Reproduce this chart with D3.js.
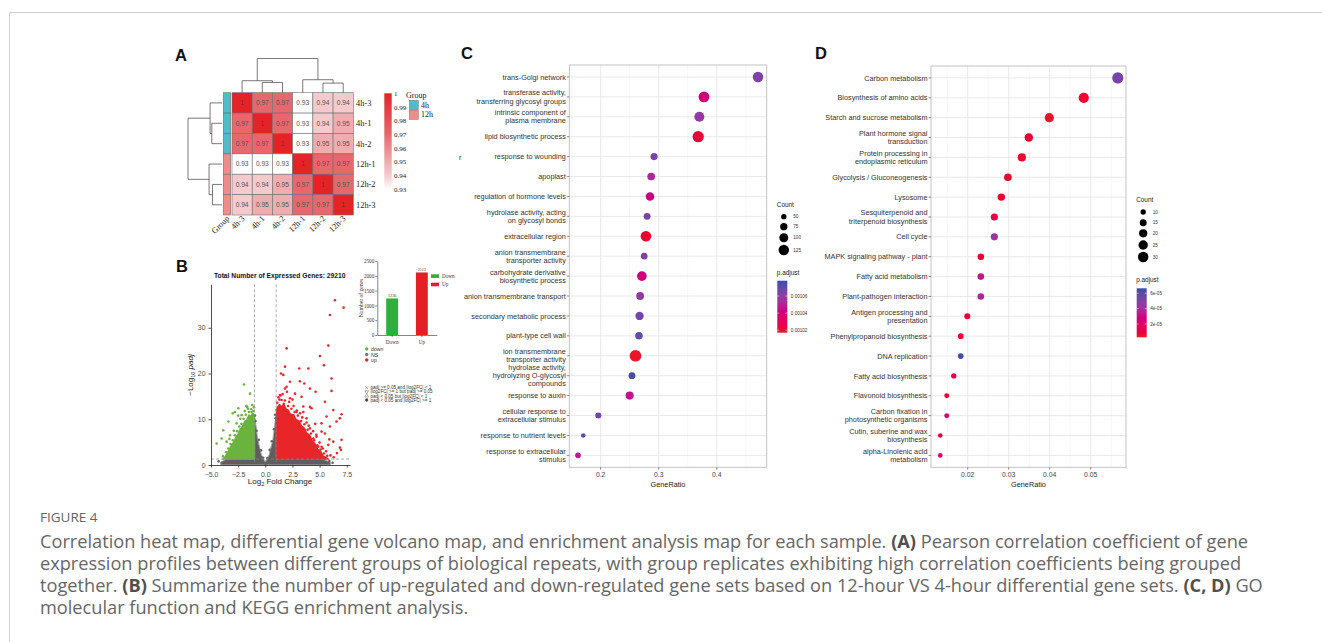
<!DOCTYPE html>
<html>
<head>
<meta charset="utf-8">
<script src="https://cdn.jsdelivr.net/npm/d3@7"></script>
<style>
  body { margin: 0; background: #fff; }
  svg { display: block; font-family: "Liberation Sans", Arial, sans-serif; }
</style>
</head>
<body>
<div id="fig"></div>
<script>
// ---------- data ----------
// A: correlation heat map
const heatSamples = ["4h-3", "4h-1", "4h-2", "12h-1", "12h-2", "12h-3"];
const heatGroups = ["4h", "4h", "4h", "12h", "12h", "12h"];
const heatValues = [
  [1, 0.97, 0.97, 0.93, 0.94, 0.94],
  [0.97, 1, 0.97, 0.93, 0.94, 0.95],
  [0.97, 0.97, 1, 0.93, 0.95, 0.95],
  [0.93, 0.93, 0.93, 1, 0.97, 0.97],
  [0.94, 0.94, 0.95, 0.97, 1, 0.97],
  [0.94, 0.95, 0.95, 0.97, 0.97, 1]
];
const heatLegendTicks = [1, 0.99, 0.98, 0.97, 0.96, 0.95, 0.94, 0.93];
// merges: [child a, child b, height, name]
const dendroMerges = [
  ["4h-1", "4h-2", 0.030, "m0"],
  ["4h-3", "m0", 0.035, "m1"],
  ["12h-2", "12h-3", 0.028, "m2"],
  ["12h-1", "m2", 0.038, "m3"],
  ["m1", "m3", 0.100, "root"]
];

// B: volcano + bar inset
const volcanoXTicks = [-5, -2.5, 0, 2.5, 5, 7.5];
const volcanoYTicks = [0, 10, 20, 30];
const upPoints = [
  [6.41, 36.0], [7.21, 34.4], [5.95, 32.8], [5.80, 26.1], [1.96, 25.5], [5.03, 23.8],
  [5.40, 21.8], [1.81, 21.5], [3.13, 21.1], [3.96, 21.1], [1.44, 20.0], [1.66, 19.7],
  [6.10, 18.9], [3.19, 18.3], [2.27, 18.2], [3.59, 17.8], [1.96, 17.1], [1.81, 16.7],
  [4.11, 16.7], [4.63, 16.0], [6.10, 16.2], [2.73, 15.6], [1.35, 15.3], [3.34, 14.9],
  [2.27, 14.6], [5.49, 13.8], [4.11, 12.7], [4.26, 12.4], [6.26, 12.0], [7.02, 11.1],
  [6.87, 10.2], [5.64, 10.6], [6.56, 9.5], [5.18, 9.1], [5.95, 8.4], [7.02, 5.5],
  [6.87, 3.8], [6.96, 3.3], [6.26, 5.1], [5.49, 6.9], [5.18, 7.3], [4.72, 6.2],
  [5.80, 4.4], [5.18, 4.0], [4.72, 3.6], [4.42, 5.8], [4.11, 8.0], [3.50, 11.6],
  [2.88, 11.6], [3.80, 10.2], [4.88, 4.0],
  [1.1, 13.6], [1.3, 14.3], [1.5, 14.2], [1.8, 14.1], [2.1, 12.9], [2.4, 12.3],
  [2.7, 11.6], [3.0, 10.8], [3.3, 9.6], [3.6, 8.9], [3.9, 7.7], [4.2, 6.9],
  [4.5, 5.4], [4.8, 4.3], [5.1, 3.4], [5.4, 2.5], [5.7, 2.0], [1.2, 14.8],
  [1.4, 15.2], [2.2, 13.8], [2.6, 12.9], [3.2, 11.3], [3.8, 9.3], [4.4, 7.4],
  [5.0, 4.9], [5.3, 3.6], [6.0, 2.1], [6.3, 1.7], [2.0, 16.0], [1.6, 15.5],
  [2.5, 14.3], [3.5, 12.8], [4.6, 9.0], [5.6, 3.0], [6.6, 2.6], [5.9, 5.6],
  [1.05, 12.0], [1.7, 13.4], [2.9, 11.9], [3.4, 10.4], [4.0, 8.6], [4.7, 6.6]
];
const downPoints = [
  [-1.96, 17.6], [-1.41, 15.6], [-1.66, 12.7], [-2.48, 12.4], [-2.79, 11.6], [-3.0, 11.3],
  [-1.26, 11.6], [-2.18, 10.9], [-3.40, 9.5], [-2.64, 9.1], [-3.87, 7.6], [-4.02, 5.8],
  [-4.48, 4.7], [-3.25, 6.5], [-3.56, 5.1], [-2.79, 3.6], [-3.25, 2.9],
  [-1.1, 11.8], [-1.3, 12.2], [-1.5, 11.6], [-1.8, 11.0], [-2.0, 10.1], [-2.2, 9.0],
  [-2.4, 8.4], [-2.6, 7.4], [-2.8, 6.5], [-3.0, 5.4], [-3.2, 4.6], [-3.4, 3.6],
  [-3.6, 2.8], [-3.9, 1.9], [-1.2, 13.1], [-1.6, 12.3], [-2.3, 10.1], [-2.9, 7.5],
  [-3.3, 5.7], [-1.9, 11.8], [-2.5, 10.8], [-1.05, 12.6], [-1.75, 12.9]
];
const nsPoints = [
  [-0.9, 9.6], [-0.8, 7.5], [-0.6, 5.5], [-0.4, 3.2], [0.4, 3.3], [0.6, 5.2],
  [0.8, 7.8], [0.95, 10.2], [-0.95, 10.8], [0.9, 11.0], [-4.3, 0.8], [-4.0, 0.5],
  [5.9, 0.9], [6.2, 0.5], [0.0, 0.3], [-0.2, 1.6], [0.2, 1.5]
];
const upCloud = [[1.0, 1.3], [1.0, 10.5], [1.1, 12.5], [1.3, 13.2], [1.5, 12.6], [1.7, 13.3],
  [1.9, 12.2], [2.1, 12.0], [2.3, 11.1], [2.6, 11.0], [2.8, 10.0], [3.1, 9.6], [3.3, 8.6],
  [3.6, 8.0], [3.8, 7.0], [4.1, 6.4], [4.3, 5.3], [4.6, 4.6], [4.8, 3.5], [5.1, 2.9],
  [5.3, 2.0], [5.6, 1.6], [5.8, 1.3]];
const downCloud = [[-1.0, 1.3], [-1.0, 10.5], [-1.15, 11.3], [-1.35, 10.6], [-1.5, 10.9],
  [-1.7, 9.8], [-1.9, 9.5], [-2.1, 8.4], [-2.3, 7.9], [-2.5, 6.7], [-2.7, 6.1], [-2.9, 5.0],
  [-3.1, 4.4], [-3.3, 3.4], [-3.5, 2.6], [-3.7, 1.8], [-3.9, 1.3]];
const nsCloud = [[-4.1, 0], [-4.1, 0.6], [-3.6, 1.3], [-1.0, 1.3], [-1.0, 10.5], [-0.93, 10.0],
  [-0.7, 5.6], [-0.35, 2.2], [0, 0.7], [0.35, 2.2], [0.7, 5.6], [0.93, 10.0], [1.0, 10.5],
  [1.0, 1.3], [5.3, 1.3], [6.0, 0.6], [6.0, 0]];
const barCategories = ["Down", "Up"];
const barValues = [1236, 2113];
const barTicks = [0, 500, 1000, 1500, 2000, 2500];
const volcanoLegend = ["down", "NS", "up"];
const shapeLegend = [
  "padj >= 0.05 and |log2FC| < 1",
  "|log2FC| >= 1 but padj >= 0.05",
  "padj < 0.05 but |log2FC| < 1",
  "padj < 0.05 and |log2FC| >= 1"
];

// C: GO enrichment
const goTerms = [
  "trans-Golgi network",
  "transferase activity,\ntransferring glycosyl groups",
  "intrinsic component of\nplasma membrane",
  "lipid biosynthetic process",
  "response to wounding",
  "apoplast",
  "regulation of hormone levels",
  "hydrolase activity, acting\non glycosyl bonds",
  "extracellular region",
  "anion transmembrane\ntransporter activity",
  "carbohydrate derivative\nbiosynthetic process",
  "anion transmembrane transport",
  "secondary metabolic process",
  "plant-type cell wall",
  "ion transmembrane\ntransporter activity",
  "hydrolase activity,\nhydrolyzing O-glycosyl\ncompounds",
  "response to auxin",
  "cellular response to\nextracellular stimulus",
  "response to nutrient levels",
  "response to extracellular\nstimulus"
];
const goRatio = [0.471, 0.378, 0.370, 0.368, 0.292, 0.287, 0.285, 0.280, 0.278, 0.275,
  0.271, 0.268, 0.267, 0.266, 0.260, 0.254, 0.250, 0.196, 0.170, 0.161];
const goCount = [125, 132, 118, 140, 72, 80, 92, 70, 128, 66,
  112, 82, 90, 78, 148, 68, 86, 58, 42, 54];
const goPadj = [0.001063, 0.001040, 0.001058, 0.001021, 0.001064, 0.001052, 0.001042, 0.001064,
  0.001020, 0.001063, 0.001040, 0.001058, 0.001067, 0.001069, 0.001018, 0.001076,
  0.001046, 0.001066, 0.001070, 0.001048];
const goXTicks = [0.2, 0.3, 0.4];
const goSizeLegend = [50, 75, 100, 125];
const goColorTicks = [0.00106, 0.00104, 0.00102];

// D: KEGG enrichment
const keggTerms = [
  "Carbon metabolism",
  "Biosynthesis of amino acids",
  "Starch and sucrose metabolism",
  "Plant hormone signal\ntransduction",
  "Protein processing in\nendoplasmic reticulum",
  "Glycolysis / Gluconeogenesis",
  "Lysosome",
  "Sesquiterpenoid and\ntriterpenoid biosynthesis",
  "Cell cycle",
  "MAPK signaling pathway - plant",
  "Fatty acid metabolism",
  "Plant-pathogen interaction",
  "Antigen processing and\npresentation",
  "Phenylpropanoid biosynthesis",
  "DNA replication",
  "Fatty acid biosynthesis",
  "Flavonoid biosynthesis",
  "Carbon fixation in\nphotosynthetic organisms",
  "Cutin, suberine and wax\nbiosynthesis",
  "alpha-Linolenic acid\nmetabolism"
];
const keggRatio = [0.0566, 0.0483, 0.0399, 0.0349, 0.0332, 0.0298, 0.0282, 0.0265, 0.0265, 0.0232,
  0.0232, 0.0232, 0.0199, 0.0183, 0.0183, 0.0166, 0.0149, 0.0149, 0.0133, 0.0133];
const keggCount = [34, 29, 24, 21, 20, 18, 17, 16, 16, 14, 14, 14, 12, 11, 11, 10, 9, 9, 8, 8];
const keggPadj = [5.3e-5, 5e-6, 4e-6, 6e-6, 5e-6, 5e-6, 6e-6, 1.1e-5, 4.3e-5, 6e-6,
  3.4e-5, 3.7e-5, 6e-6, 7e-6, 6.5e-5, 1.5e-5, 8e-6, 2.4e-5, 9e-6, 1.7e-5];
const keggXTicks = [0.02, 0.03, 0.04, 0.05];
const keggSizeLegend = [10, 15, 20, 25, 30];
const keggColorTicks = [6e-5, 4e-5, 2e-5];

const captionLines = [
  [["Correlation heat map, differential gene volcano map, and enrichment analysis map for each sample. ", false], ["(A)", true], [" Pearson correlation coefficient of gene", false]],
  [["expression profiles between different groups of biological repeats, with group replicates exhibiting high correlation coefficients being grouped", false]],
  [["together. ", false], ["(B)", true], [" Summarize the number of up-regulated and down-regulated gene sets based on 12-hour VS 4-hour differential gene sets. ", false], ["(C, D)", true], [" GO", false]],
  [["molecular function and KEGG enrichment analysis.", false]]
];

// ---------- svg ----------
const svg = d3.select("#fig").append("svg")
  .attr("width", 1322)
  .attr("height", 642);

svg.append("rect").attr("width", 1322).attr("height", 642).attr("fill", "#fff");
// page frame
svg.append("path").attr("d", "M9.5,642V12.5H1322").attr("fill", "none").attr("stroke", "#cfcfcf");

// panel letters
[["A", 175, 61], ["B", 176, 272], ["C", 461, 59], ["D", 815, 59]].forEach(function (p) {
  svg.append("text").attr("x", p[1]).attr("y", p[2]).text(p[0])
    .attr("font-size", 16.5).attr("font-weight", "bold").attr("fill", "#111");
});

// ================= A =================
const gA = svg.append("g");
const hx = d3.scaleBand().domain(heatSamples).range([232, 353.3]);
const hy = d3.scaleBand().domain(heatSamples).range([92.7, 215]);
const heatColor = d3.scaleLinear()
  .domain([0.93, 0.94, 0.95, 0.97, 1])
  .range(["#ffffff", "#f4cacd", "#efadb0", "#e6686c", "#e42327"]);
const groupColor = d3.scaleOrdinal().domain(["4h", "12h"]).range(["#4fbcc6", "#ef8b89"]);

heatValues.forEach(function (row, i) {
  row.forEach(function (v, j) {
    gA.append("rect")
      .attr("x", hx(heatSamples[j])).attr("y", hy(heatSamples[i]))
      .attr("width", hx.bandwidth()).attr("height", hy.bandwidth())
      .attr("fill", heatColor(v)).attr("stroke", "#6f6f6f").attr("stroke-width", 0.6);
    gA.append("text")
      .attr("x", hx(heatSamples[j]) + hx.bandwidth() / 2)
      .attr("y", hy(heatSamples[i]) + hy.bandwidth() / 2 + 2.4)
      .attr("text-anchor", "middle").attr("font-size", 6.6)
      .attr("fill", v === 1 ? "#7a2a2a" : "#555")
      .text(v === 1 ? "1" : d3.format(".2f")(v));
  });
});

// group annotation column
heatSamples.forEach(function (s, i) {
  gA.append("rect").attr("x", 223.3).attr("y", hy(s)).attr("width", 7.4).attr("height", hy.bandwidth())
    .attr("fill", groupColor(heatGroups[i])).attr("stroke", "#6f6f6f").attr("stroke-width", 0.6);
});

// row labels
heatSamples.forEach(function (s) {
  gA.append("text").attr("x", 356).attr("y", hy(s) + hy.bandwidth() / 2 + 3)
    .attr("font-family", "Liberation Serif, serif").attr("font-size", 8.4).attr("fill", "#222").text(s);
});
// column labels (45 degrees)
[["Group", 227]].concat(heatSamples.map(function (s) { return [s, hx(s) + hx.bandwidth() / 2]; }))
  .forEach(function (c) {
    gA.append("text").attr("transform", "translate(" + (c[1] + 3) + ",219) rotate(-45)")
      .attr("text-anchor", "end").attr("font-family", "Liberation Serif, serif")
      .attr("font-size", 8.4).attr("fill", "#222").text(c[0]);
  });

// dendrograms
const heightTop = d3.scaleLinear().domain([0, 0.1]).range([92.7, 58.5]);
const heightLeft = d3.scaleLinear().domain([0, 0.1]).range([222, 188]);
const nodePos = {}, nodeH = {};
heatSamples.forEach(function (s) { nodePos[s] = heatSamples.indexOf(s); nodeH[s] = 0; });
dendroMerges.forEach(function (m) {
  nodePos[m[3]] = (nodePos[m[0]] + nodePos[m[1]]) / 2;
  nodeH[m[3]] = m[2];
});
const colCenter = function (p) { return 232 + hx.step() * (p + 0.5); };
const rowCenter = function (p) { return 92.7 + hy.step() * (p + 0.5); };
dendroMerges.forEach(function (m) {
  const ha = nodeH[m[0]], hb = nodeH[m[1]], h = m[2];
  const pa = nodePos[m[0]], pb = nodePos[m[1]];
  gA.append("path")
    .attr("d", "M" + colCenter(pa) + "," + heightTop(ha) + "V" + heightTop(h) + "H" + colCenter(pb) + "V" + heightTop(hb))
    .attr("fill", "none").attr("stroke", "#555").attr("stroke-width", 0.8);
  gA.append("path")
    .attr("d", "M" + heightLeft(ha) + "," + rowCenter(pa) + "H" + heightLeft(h) + "V" + rowCenter(pb) + "H" + heightLeft(hb))
    .attr("fill", "none").attr("stroke", "#555").attr("stroke-width", 0.8);
});

// colour legend
const defs = svg.append("defs");
const heatLegY = d3.scaleLinear().domain([1, 0.93]).range([93.3, 189.2]);
const hg = defs.append("linearGradient").attr("id", "heatGrad").attr("x1", 0).attr("y1", 1).attr("x2", 0).attr("y2", 0);
d3.range(0, 1.01, 0.05).forEach(function (t) {
  hg.append("stop").attr("offset", t).attr("stop-color", heatColor(Math.max(0.93, 0.927 + t * 0.073)));
});
gA.append("rect").attr("x", 384.3).attr("y", 93.3).attr("width", 7.4).attr("height", 100).attr("fill", "url(#heatGrad)");
heatLegendTicks.forEach(function (t) {
  gA.append("text").attr("x", 394).attr("y", heatLegY(t) + 2.5)
    .attr("font-family", "Liberation Serif, serif").attr("font-size", 7).attr("fill", "#222").text(t === 1 ? "1" : t.toFixed(2));
});
gA.append("text").attr("x", 406).attr("y", 98).attr("font-family", "Liberation Serif, serif")
  .attr("font-size", 8).attr("fill", "#222").text("Group");
groupColor.domain().forEach(function (g, i) {
  gA.append("rect").attr("x", 409.3).attr("y", 100.3 + i * 9.8).attr("width", 9).attr("height", 9.3)
    .attr("fill", groupColor(g)).attr("stroke", "#777").attr("stroke-width", 0.5);
  gA.append("text").attr("x", 421).attr("y", 107.6 + i * 9.8).attr("font-family", "Liberation Serif, serif")
    .attr("font-size", 8).attr("fill", "#222").text(g);
});

// ================= B =================
const gB = svg.append("g");
const vx = d3.scaleLinear().domain([-5, 7.8]).range([211, 350]);
const vy = d3.scaleLinear().domain([0, 39.5]).range([465, 284.3]);
gB.append("text").attr("x", 279.7).attr("y", 278).attr("text-anchor", "middle")
  .attr("font-size", 6.7).attr("font-weight", "bold").attr("fill", "#111")
  .text("Total Number of Expressed Genes: 29210");

const cloudLine = d3.line().x(function (d) { return vx(d[0]); }).y(function (d) { return vy(d[1]); }).curve(d3.curveLinearClosed);
gB.append("path").attr("d", cloudLine(nsCloud)).attr("fill", "#5e5e5e").attr("stroke", "#a8a8a8").attr("stroke-width", 1);
gB.append("path").attr("d", cloudLine(downCloud)).attr("fill", "#6ab43e").attr("stroke", "#6ab43e").attr("stroke-width", 1.6).attr("stroke-linejoin", "round");
gB.append("path").attr("d", cloudLine(upCloud)).attr("fill", "#e8262a").attr("stroke", "#e8262a").attr("stroke-width", 1.6).attr("stroke-linejoin", "round");
[[nsPoints, "#666"], [downPoints, "#6ab43e"], [upPoints, "#e8262a"]].forEach(function (set) {
  gB.selectAll(null).data(set[0]).enter().append("circle")
    .attr("cx", function (d) { return vx(d[0]); }).attr("cy", function (d) { return vy(d[1]); })
    .attr("r", 1.3).attr("fill", set[1]);
});
// thresholds
[-1, 1].forEach(function (v) {
  gB.append("line").attr("x1", vx(v)).attr("x2", vx(v)).attr("y1", 284.3).attr("y2", 465)
    .attr("stroke", "#8a8a8a").attr("stroke-width", 0.7).attr("stroke-dasharray", "3,2");
});
gB.append("line").attr("x1", 211).attr("x2", 350).attr("y1", vy(-Math.log10(0.05))).attr("y2", vy(-Math.log10(0.05)))
  .attr("stroke", "#8a8a8a").attr("stroke-width", 0.7).attr("stroke-dasharray", "3,2");

const vAxisX = gB.append("g").attr("transform", "translate(0,465)")
  .call(d3.axisBottom(vx).tickValues(volcanoXTicks).tickFormat(d3.format(".1f")).tickSize(2.5).tickSizeOuter(0));
const vAxisY = gB.append("g").attr("transform", "translate(211,0)")
  .call(d3.axisLeft(vy).tickValues(volcanoYTicks).tickSize(2.5).tickSizeOuter(0));
[vAxisX, vAxisY].forEach(function (a) {
  a.selectAll("path,line").attr("stroke", "#222").attr("stroke-width", 0.8);
  a.selectAll("text").attr("font-size", 6.9).attr("fill", "#4d4d4d").attr("font-family", "Liberation Sans, Arial, sans-serif");
});
vAxisX.selectAll("text").attr("dy", "0.9em");
const xt = gB.append("text").attr("x", 280).attr("y", 484).attr("text-anchor", "middle").attr("font-size", 8).attr("fill", "#222");
xt.append("tspan").text("Log");
xt.append("tspan").attr("font-size", 5.5).attr("dy", 2).text("2");
xt.append("tspan").attr("dy", -2).text(" Fold Change");
const yt = gB.append("text").attr("transform", "translate(193,375) rotate(-90)").attr("text-anchor", "middle").attr("font-size", 8).attr("fill", "#222");
yt.append("tspan").text("\u2212Log");
yt.append("tspan").attr("font-size", 5.5).attr("dy", 2).text("10");
yt.append("tspan").attr("dy", -2).text(" ");
yt.append("tspan").attr("font-style", "italic").text("padj");

// inset bar chart
const bx = d3.scaleBand().domain(barCategories).range([377.3, 436.7]).paddingInner(0.6).paddingOuter(0.3);
const by = d3.scaleLinear().domain([0, 2500]).range([335, 261]);
const barColor = d3.scaleOrdinal().domain(barCategories).range(["#2fae3c", "#e41f26"]);
gB.selectAll(null).data(barCategories).enter().append("rect")
  .attr("x", function (d) { return bx(d); }).attr("width", bx.bandwidth())
  .attr("y", function (d, i) { return by(barValues[i]); })
  .attr("height", function (d, i) { return 335 - by(barValues[i]); })
  .attr("fill", function (d) { return barColor(d); });
gB.selectAll(null).data(barCategories).enter().append("text")
  .attr("x", function (d) { return bx(d) + bx.bandwidth() / 2; })
  .attr("y", function (d, i) { return by(barValues[i]) - 1; })
  .attr("text-anchor", "middle").attr("font-family", "Liberation Serif, serif").attr("font-size", 4.2).attr("fill", "#333")
  .text(function (d, i) { return barValues[i]; });
const bAxisX = gB.append("g").attr("transform", "translate(0,335)")
  .call(d3.axisBottom(bx).tickSize(2).tickSizeOuter(0));
const bAxisY = gB.append("g").attr("transform", "translate(377.3,0)")
  .call(d3.axisLeft(by).tickValues(barTicks).tickFormat(d3.format("d")).tickSize(2).tickSizeOuter(0));
[bAxisX, bAxisY].forEach(function (a) {
  a.selectAll("path,line").attr("stroke", "#333").attr("stroke-width", 0.6);
  a.selectAll("text").attr("font-size", 5.2).attr("fill", "#333").attr("font-family", "Liberation Serif, serif");
});
bAxisY.selectAll("text").attr("x", -3);
gB.append("text").attr("transform", "translate(363,298) rotate(-90)").attr("text-anchor", "middle")
  .attr("font-family", "Liberation Serif, serif").attr("font-size", 5.6).attr("fill", "#333").text("Number of genes");
barCategories.forEach(function (c, i) {
  gB.append("rect").attr("x", 431).attr("y", 274.3 + i * 8.4).attr("width", 8).attr("height", 3.6).attr("fill", barColor(c));
  gB.append("text").attr("x", 442).attr("y", 277.8 + i * 8.4).attr("font-family", "Liberation Serif, serif")
    .attr("font-size", 5.2).attr("fill", "#333").text(c);
});
// point legend
const ptColor = d3.scaleOrdinal().domain(volcanoLegend).range(["#6ab43e", "#777", "#e8262a"]);
volcanoLegend.forEach(function (l, i) {
  gB.append("circle").attr("cx", 366.7).attr("cy", 349 + i * 5.5).attr("r", 1.7).attr("fill", ptColor(l));
  gB.append("text").attr("x", 371).attr("y", 351 + i * 5.5).attr("font-size", 5.2).attr("fill", "#333").text(l);
});
// shape legend
const shapeSyms = [d3.symbolX, d3.symbolTriangle, d3.symbolTriangle, d3.symbolCircle];
shapeLegend.forEach(function (l, i) {
  gB.append("path").attr("d", d3.symbol(shapeSyms[i], 6)())
    .attr("transform", "translate(366.7," + (387.7 + i * 4.1) + ")" + (i === 1 ? " rotate(180)" : ""))
    .attr("fill", i === 3 ? "#333" : "none").attr("stroke", "#666").attr("stroke-width", 0.5);
  gB.append("text").attr("x", 370.5).attr("y", 389.3 + i * 4.1).attr("font-size", 4.6).attr("fill", "#333").text(l);
});

// ================= C & D =================
function dotPlot(cfg) {
  const g = svg.append("g");
  const x = d3.scaleLinear().domain(cfg.xDomain).range([cfg.left, cfg.right]);
  const y = d3.scalePoint().domain(cfg.terms).range([cfg.top, cfg.bottom]).padding(0.6);
  const r = d3.scaleSqrt().domain(cfg.sizeDomain).range(cfg.sizeRange);
  const col = d3.scaleLinear().domain(cfg.colorDomain).range(["#ec1c24", "#3a4fa2"]).interpolate(d3.interpolateHcl);

  // grid
  cfg.minor.forEach(function (t) {
    g.append("line").attr("x1", x(t)).attr("x2", x(t)).attr("y1", cfg.top).attr("y2", cfg.bottom)
      .attr("stroke", "#f2f2f2").attr("stroke-width", 0.6);
  });
  cfg.xTicks.forEach(function (t) {
    g.append("line").attr("x1", x(t)).attr("x2", x(t)).attr("y1", cfg.top).attr("y2", cfg.bottom)
      .attr("stroke", "#e6e6e6").attr("stroke-width", 0.9);
  });
  cfg.terms.forEach(function (t) {
    g.append("line").attr("x1", cfg.left).attr("x2", cfg.right).attr("y1", y(t)).attr("y2", y(t))
      .attr("stroke", "#e6e6e6").attr("stroke-width", 0.9);
  });
  g.append("rect").attr("x", cfg.left).attr("y", cfg.top).attr("width", cfg.right - cfg.left)
    .attr("height", cfg.bottom - cfg.top).attr("fill", "none").attr("stroke", "#bdbdbd").attr("stroke-width", 0.9);

  // points
  cfg.terms.forEach(function (t, i) {
    g.append("circle").attr("cx", x(cfg.ratio[i])).attr("cy", y(t)).attr("r", r(cfg.count[i]))
      .attr("fill", col(cfg.padj[i]));
  });

  // y labels and ticks
  cfg.terms.forEach(function (t) {
    g.append("line").attr("x1", cfg.left - 2.5).attr("x2", cfg.left).attr("y1", y(t)).attr("y2", y(t))
      .attr("stroke", "#444").attr("stroke-width", 0.6);
    const lines = t.split("\n");
    const tx = g.append("text").attr("text-anchor", "end").attr("font-size", 7.3).attr("fill", "#333");
    lines.forEach(function (l, k) {
      tx.append("tspan").attr("x", cfg.left - 3.5)
        .attr("y", y(t) + 2.6 + (k - (lines.length - 1) / 2) * 8.2).text(l);
    });
  });
  // x ticks
  cfg.xTicks.forEach(function (t) {
    g.append("line").attr("x1", x(t)).attr("x2", x(t)).attr("y1", cfg.bottom).attr("y2", cfg.bottom + 2.5)
      .attr("stroke", "#444").attr("stroke-width", 0.6);
    g.append("text").attr("x", x(t)).attr("y", cfg.bottom + 10).attr("text-anchor", "middle")
      .attr("font-size", 6.8).attr("fill", "#444").text(t);
  });
  g.append("text").attr("x", (cfg.left + cfg.right) / 2).attr("y", cfg.bottom + 20).attr("text-anchor", "middle")
    .attr("font-size", 7.3).attr("fill", "#222").text("GeneRatio");

  // size legend
  g.append("text").attr("x", cfg.legX - 0.5).attr("y", cfg.countY).attr("font-size", 6.4).attr("fill", "#222").text("Count");
  cfg.sizeLegend.forEach(function (s, i) {
    const cy = cfg.sizeYs[i];
    g.append("circle").attr("cx", cfg.legX + 6.5).attr("cy", cy).attr("r", r(s)).attr("fill", "#000");
    g.append("text").attr("x", cfg.legX + 16).attr("y", cy + 1.7).attr("font-size", 4.6).attr("fill", "#333").text(s);
  });
  // colour legend
  g.append("text").attr("x", cfg.legX - 0.5).attr("y", cfg.padjY).attr("font-size", 6.4).attr("fill", "#222").text("p.adjust");
  const ly = d3.scaleLinear().domain(cfg.colorDomain).range([cfg.barBottom, cfg.barTop]);
  const gid = cfg.id + "Grad";
  const lg = defs.append("linearGradient").attr("id", gid).attr("x1", 0).attr("y1", 1).attr("x2", 0).attr("y2", 0);
  d3.range(0, 1.01, 0.1).forEach(function (t) {
    lg.append("stop").attr("offset", t).attr("stop-color", col(cfg.colorDomain[0] + t * (cfg.colorDomain[1] - cfg.colorDomain[0])));
  });
  g.append("rect").attr("x", cfg.legX).attr("y", cfg.barTop).attr("width", 10)
    .attr("height", cfg.barBottom - cfg.barTop).attr("fill", "url(#" + gid + ")");
  cfg.colorTicks.forEach(function (t) {
    g.append("line").attr("x1", cfg.legX).attr("x2", cfg.legX + 2).attr("y1", ly(t)).attr("y2", ly(t)).attr("stroke", "#fff").attr("stroke-width", 0.5);
    g.append("line").attr("x1", cfg.legX + 8).attr("x2", cfg.legX + 10).attr("y1", ly(t)).attr("y2", ly(t)).attr("stroke", "#fff").attr("stroke-width", 0.5);
    g.append("text").attr("x", cfg.legX + 13.5).attr("y", ly(t) + 1.6).attr("font-size", 4.6).attr("fill", "#333").text(cfg.tickFormat(t));
  });
  return g;
}

const gC = dotPlot({
  id: "go", terms: goTerms, ratio: goRatio, count: goCount, padj: goPadj,
  xDomain: [0.146, 0.486], left: 569.3, right: 766.7, top: 65, bottom: 467.3,
  xTicks: goXTicks, minor: [0.15, 0.25, 0.35, 0.45],
  sizeDomain: [40, 150], sizeRange: [2.2, 5.9], sizeLegend: goSizeLegend,
  sizeYs: [216.7, 226.7, 237.7, 250],
  colorDomain: [0.001017, 0.001078], colorTicks: goColorTicks,
  tickFormat: d3.format(".5f"),
  legX: 777.3, countY: 207, padjY: 274.5, barTop: 280.7, barBottom: 332.7
});
// clipped label fragment at the left edge of C
gC.append("text").attr("x", 459).attr("y", 160).attr("font-size", 7.3).attr("fill", "#333").text("r");

dotPlot({
  id: "kegg", terms: keggTerms, ratio: keggRatio, count: keggCount, padj: keggPadj,
  xDomain: [0.01105, 0.0586], left: 931, right: 1126, top: 66, bottom: 467.3,
  xTicks: keggXTicks, minor: [0.015, 0.025, 0.035, 0.045, 0.055],
  sizeDomain: [8, 34], sizeRange: [2.3, 5.6], sizeLegend: keggSizeLegend,
  sizeYs: [212, 222.7, 233.3, 245, 257],
  colorDomain: [2.6e-6, 6.65e-5], colorTicks: keggColorTicks,
  tickFormat: function (t) { return d3.format(".0e")(t).replace("e-5", "e-05"); },
  legX: 1136.7, countY: 202, padjY: 282, barTop: 288.3, barBottom: 337.3
});

// ================= caption =================
svg.append("text").attr("x", 40).attr("y", 522).attr("font-family", "Open Sans, sans-serif")
  .attr("font-size", 13.5).attr("fill", "#666").text("FIGURE 4");
captionLines.forEach(function (line, i) {
  const t = svg.append("text").attr("x", 40).attr("y", 548 + i * 22)
    .attr("font-family", "Open Sans, sans-serif").attr("font-size", 18.2).attr("fill", "#666");
  line.forEach(function (seg) {
    t.append("tspan").attr("font-weight", seg[1] ? "bold" : "normal").attr("fill", seg[1] ? "#505050" : "#666").text(seg[0]);
  });
});
</script>
</body>
</html>
